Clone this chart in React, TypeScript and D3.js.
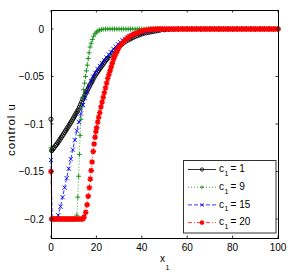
import React from 'react';
import * as d3 from 'd3';

type Pt = [number, number];

// c1 = 1 (black, solid, circles)
const seriesC1: Pt[] = [
  [0, -0.095], [0.3, -0.128], [0.5, -0.1274], [1, -0.1259], [1.5, -0.1244], [2, -0.1228], [2.5, -0.1213],
  [3, -0.1197], [3.5, -0.1179], [4, -0.1161], [4.5, -0.1142], [5, -0.1124], [5.5, -0.1106], [6, -0.1087],
  [6.5, -0.1069], [7, -0.105], [7.5, -0.1031], [8, -0.1012], [8.5, -0.0993], [9, -0.0974], [9.5, -0.0953],
  [10, -0.0933], [10.5, -0.0912], [11, -0.0891], [11.5, -0.087], [12, -0.085], [12.5, -0.0823], [13, -0.0797],
  [13.5, -0.077], [14, -0.0743], [14.5, -0.0717], [15, -0.069], [15.5, -0.0667], [16, -0.0645], [16.5, -0.0622],
  [17, -0.0599], [17.5, -0.0576], [18, -0.0554], [18.5, -0.0531], [19, -0.0508], [19.5, -0.0487], [20, -0.0469],
  [20.5, -0.0452], [21, -0.0435], [21.5, -0.0418], [22, -0.0401], [22.5, -0.0384], [23, -0.0367], [23.5, -0.035],
  [24, -0.0335], [24.5, -0.0321], [25, -0.0307], [26, -0.028], [27, -0.0253], [28, -0.0226], [29, -0.0205],
  [30, -0.0185], [31, -0.0165], [32, -0.0146], [33, -0.0129], [34, -0.0116], [35, -0.0104], [36, -0.0092],
  [37, -0.008], [38, -0.007], [39, -0.0061], [40, -0.0052], [41, -0.0045], [42, -0.004], [43, -0.0035],
  [44, -0.003], [45, -0.0026], [46, -0.0021], [47, -0.0017], [48, -0.0012], [50, -0.0008], [52, -0.0005],
  [54, -0.0003], [56, -0.0001], [58, 0], [60, 0], [62, 0], [64, 0], [66, 0], [68, 0], [70, 0], [72, 0],
  [74, 0], [76, 0], [78, 0], [80, 0], [82, 0], [84, 0], [86, 0], [88, 0], [90, 0], [92, 0], [94, 0],
  [96, 0], [98, 0], [100, 0],
];

// c1 = 9 (green, dotted, plus)
const seriesC9: Pt[] = [
  [0, -0.125], [0.3, -0.2], [0.5, -0.2], [1, -0.2], [1.5, -0.2], [2, -0.2], [2.5, -0.2], [3, -0.2],
  [3.5, -0.2], [4, -0.2], [4.5, -0.2], [5, -0.2], [5.5, -0.2], [6, -0.2], [6.5, -0.2], [7, -0.2],
  [7.5, -0.2], [8, -0.2], [8.5, -0.2], [9, -0.2], [9.5, -0.2], [10, -0.2], [10.5, -0.2], [11, -0.2],
  [11.4, -0.196], [11.8, -0.177], [12.2, -0.155], [12.5, -0.132], [12.8, -0.112], [13.2, -0.095],
  [13.6, -0.082], [14, -0.072], [14.4, -0.064], [14.8, -0.057], [15.2, -0.05], [15.6, -0.044],
  [16, -0.038], [16.4, -0.031], [16.8, -0.025], [17.2, -0.019], [17.7, -0.015], [18.2, -0.011],
  [18.8, -0.0075], [19.4, -0.005], [20, -0.0033], [20.7, -0.002], [21.4, -0.0012], [22.2, -0.0006],
  [23, -0.0002], [24, 0], [25, 0], [26, 0], [27, 0], [28, 0], [29, 0], [30, 0], [31, 0], [32, 0],
  [33, 0], [34, 0], [35, 0], [36, 0], [37, 0], [38, 0], [39, 0], [40, 0], [41, 0], [42, 0], [43, 0],
  [44, 0], [45, 0], [46, 0], [47, 0], [48, 0], [49, 0], [50, 0], [52, 0], [54, 0], [56, 0], [58, 0],
  [60, 0], [62, 0], [64, 0], [66, 0], [68, 0], [70, 0], [72, 0], [74, 0], [76, 0], [78, 0], [80, 0],
  [82, 0], [84, 0], [86, 0], [88, 0], [90, 0], [92, 0], [94, 0], [96, 0], [98, 0], [100, 0],
];

// c1 = 15 (blue, dashed, cross)
const seriesC15: Pt[] = [
  [0, -0.138], [0.5, -0.2], [1, -0.2], [1.5, -0.2], [2, -0.2], [2.5, -0.2], [3, -0.2], [3.2, -0.196],
  [4.2, -0.187], [5.1, -0.177], [6, -0.167], [6.9, -0.157], [7.8, -0.147], [8.7, -0.137], [9.6, -0.127],
  [10.5, -0.117], [11.4, -0.107], [12.3, -0.098], [13.2, -0.089], [14.1, -0.08], [15, -0.073],
  [15.9, -0.066], [16.8, -0.06], [17.7, -0.055], [18.6, -0.05], [19.5, -0.046], [20.5, -0.042],
  [21.5, -0.039], [22.5, -0.036], [23.5, -0.033], [24.5, -0.03], [25.5, -0.027], [26.5, -0.024],
  [27.5, -0.021], [28.5, -0.0185], [29.5, -0.016], [30.5, -0.014], [31.5, -0.012], [32.5, -0.0105],
  [33.5, -0.009], [34.5, -0.0078], [35.5, -0.0067], [36.5, -0.0057], [37.5, -0.0048], [38.5, -0.004],
  [39.5, -0.0034], [40.5, -0.0028], [42, -0.0021], [43.5, -0.0015], [45, -0.0011], [46.5, -0.0007],
  [48, -0.0004], [50, -0.0002], [52, -0.0001], [54, 0], [56, 0], [58, 0], [60, 0], [62, 0], [64, 0],
  [66, 0], [68, 0], [70, 0], [72, 0], [74, 0], [76, 0], [78, 0], [80, 0], [82, 0], [84, 0], [86, 0],
  [88, 0], [90, 0], [92, 0], [94, 0], [96, 0], [98, 0], [100, 0],
];

// c1 = 20 (red, dash-dot, asterisk)
const seriesC20: Pt[] = [
  [0, -0.15], [0.3, -0.2], [0.5, -0.2], [1, -0.2], [1.5, -0.2], [2, -0.2], [2.5, -0.2], [3, -0.2],
  [3.5, -0.2], [4, -0.2], [4.5, -0.2], [5, -0.2], [5.5, -0.2], [6, -0.2], [6.5, -0.2], [7, -0.2],
  [7.5, -0.2], [8, -0.2], [8.5, -0.2], [9, -0.2], [9.5, -0.2], [10, -0.2], [10.5, -0.2], [11, -0.2],
  [11.5, -0.2], [12, -0.2], [12.5, -0.2], [13, -0.2], [13.5, -0.2], [14, -0.2], [14.6, -0.198],
  [15.3, -0.193], [15.9, -0.185], [16.4, -0.176], [16.9, -0.167], [17.3, -0.158], [17.7, -0.149],
  [18.1, -0.14], [18.6, -0.129], [19, -0.121], [19.4, -0.114], [19.8, -0.108], [20.1, -0.104],
  [20.6, -0.098], [21, -0.093], [21.5, -0.088], [22, -0.082], [22.5, -0.077], [23, -0.072],
  [23.5, -0.067], [24, -0.062], [24.5, -0.057], [25, -0.052], [25.5, -0.048], [26, -0.044],
  [26.5, -0.04], [27, -0.036], [27.5, -0.032], [28, -0.029], [28.5, -0.026], [29, -0.024],
  [29.5, -0.021], [30, -0.019], [31, -0.016], [32, -0.013], [33, -0.011], [34, -0.009], [35, -0.0075],
  [36, -0.006], [37, -0.005], [38, -0.004], [39, -0.003], [40, -0.0022], [41, -0.0016], [42, -0.0011],
  [43, -0.0007], [44, -0.0004], [45, -0.0002], [46, -0.0001], [47, 0], [48, 0], [49, 0], [50, 0],
  [51, 0], [52, 0], [53, 0], [54, 0], [55, 0], [56, 0], [57, 0], [58, 0], [59, 0], [60, 0], [61, 0],
  [62, 0], [63, 0], [64, 0], [65, 0], [66, 0], [67, 0], [68, 0], [69, 0], [70, 0], [71, 0], [72, 0],
  [73, 0], [74, 0], [75, 0], [76, 0], [77, 0], [78, 0], [79, 0], [80, 0], [81, 0], [82, 0], [83, 0],
  [84, 0], [85, 0], [86, 0], [87, 0], [88, 0], [89, 0], [90, 0], [91, 0], [92, 0], [93, 0], [94, 0],
  [95, 0], [96, 0], [97, 0], [98, 0], [99, 0], [100, 0],
];

const legendValues = ['1', '9', '15', '20'];
const xTicks = [0, 20, 40, 60, 80, 100];
const yTicks = [0, -0.05, -0.1, -0.15, -0.2];
const yTickLabels = ['0', '\u22120.05', '\u22120.1', '\u22120.15', '\u22120.2'];

type Kind = 'o' | '+' | 'x' | '*';

const styles: { color: string; dash: string; marker: Kind }[] = [
  { color: '#000000', dash: '', marker: 'o' },
  { color: '#0b8c0b', dash: '1,2', marker: '+' },
  { color: '#0000ff', dash: '4,2', marker: 'x' },
  { color: '#ff0000', dash: '4,2,1,2', marker: '*' },
];

const FONT = 'Liberation Sans, Arial, Helvetica, sans-serif';

// marker glyph path at (cx, cy)
function glyph(kind: Kind, cx: number, cy: number, k = 1): string {
  if (kind === 'o') {
    const r = 2.1 * k;
    return `M${cx - r},${cy}a${r},${r} 0 1,0 ${2 * r},0a${r},${r} 0 1,0 ${-2 * r},0`;
  }
  if (kind === '+') {
    const s = 2.5 * k;
    return `M${cx - s},${cy}H${cx + s}M${cx},${cy - s}V${cy + s}`;
  }
  if (kind === 'x') {
    const s = 2.1 * k;
    return `M${cx - s},${cy - s}L${cx + s},${cy + s}M${cx - s},${cy + s}L${cx + s},${cy - s}`;
  }
  const s = 2.8 * k, d = 2.0 * k;
  return `M${cx - s},${cy}H${cx + s}M${cx},${cy - s}V${cy + s}` +
    `M${cx - d},${cy - d}L${cx + d},${cy + d}M${cx - d},${cy + d}L${cx + d},${cy - d}`;
}

export default function App() {
  const width = 291;
  const height = 273;

  const x = d3.scaleLinear().domain([0, 100]).range([51, 278]);
  const y = d3.scaleLinear().domain([-0.22, 0.02]).range([238, 10]);

  const line = d3.line<Pt>().x(d => x(d[0])).y(d => y(d[1]));

  const allSeries = [seriesC1, seriesC9, seriesC15, seriesC20];

  const [x0, x1] = x.range();
  const [yb, yt] = y.range();

  return (
    <svg width={width} height={height} style={{ position: 'absolute', left: 0, top: 0, background: '#fff' }}
      fontFamily={FONT}>
      <rect x={0} y={0} width={width} height={height} fill="#fff" />

      {/* curves */}
      {allSeries.map((pts, i) => {
        const st = styles[i];
        const markers = pts.map(p => glyph(st.marker, x(p[0]), y(p[1]))).join('');
        return (
          <g key={i}>
            <path d={line(pts) ?? ''} fill="none" stroke={st.color} strokeWidth={0.8}
              strokeDasharray={st.dash || undefined} />
            <path d={markers} fill="none" stroke={st.color}
              strokeWidth={st.marker === '*' ? 1.4 : 0.9} />
          </g>
        );
      })}

      {/* axes box */}
      <rect x={x0} y={yt} width={x1 - x0} height={yb - yt} fill="none" stroke="#000" strokeWidth={1}
        shapeRendering="crispEdges" />

      {/* ticks */}
      {xTicks.map(t => (
        <g key={'xt' + t}>
          <line x1={x(t)} x2={x(t)} y1={yb} y2={yb - 2.5} stroke="#000" strokeWidth={0.8} />
          <line x1={x(t)} x2={x(t)} y1={yt} y2={yt + 2.5} stroke="#000" strokeWidth={0.8} />
          <text x={x(t)} y={250.5} fontSize={10} textAnchor="middle">{t}</text>
        </g>
      ))}
      {yTicks.map((t, i) => (
        <g key={'yt' + t}>
          <line x1={x0} x2={x0 + 2.5} y1={y(t)} y2={y(t)} stroke="#000" strokeWidth={0.8} />
          <line x1={x1} x2={x1 - 2.5} y1={y(t)} y2={y(t)} stroke="#000" strokeWidth={0.8} />
          <text x={44} y={y(t) + 3.6} fontSize={10} textAnchor="end">{yTickLabels[i]}</text>
        </g>
      ))}

      {/* axis labels */}
      <text x={160} y={261.5} fontSize={10}>x</text>
      <text x={165.5} y={269.5} fontSize={7}>1</text>
      <text transform="translate(15,130) rotate(-90)" fontSize={11.5} textAnchor="middle"
        textLength={52} lengthAdjust="spacing">control u</text>

      {/* legend */}
      <rect x={183.5} y={160.5} width={92.5} height={72.5} fill="#fff" stroke="#333" strokeWidth={1} />
      {legendValues.map((v, i) => {
        const st = styles[i];
        const yc = 169.5 + i * 17.7;
        return (
          <g key={'lg' + v}>
            <line x1={188} x2={216} y1={yc} y2={yc} stroke={st.color} strokeWidth={0.8}
              strokeDasharray={st.dash || undefined} />
            <path d={glyph(st.marker, 202, yc, 0.8)} fill="none" stroke={st.color}
              strokeWidth={st.marker === '*' ? 1.3 : 0.8} />
            <text x={219} y={yc + 2.8} fontSize={10}>c</text>
            <text x={224.5} y={yc + 6.5} fontSize={7}>1</text>
            <text x={230.5} y={yc + 2.8} fontSize={10}>= {v}</text>
          </g>
        );
      })}
    </svg>
  );
}
